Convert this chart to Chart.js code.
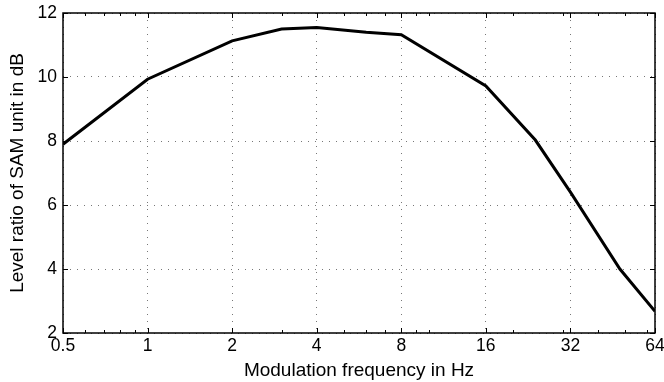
<!DOCTYPE html>
<html>
<head>
<meta charset="utf-8">
<script src="https://cdn.jsdelivr.net/npm/chart.js@4/dist/chart.umd.min.js"></script>
<style>
  html, body { margin: 0; padding: 0; background: #fff; }
  .chart__container { position: relative; width: 664px; height: 382px; }
</style>
</head>
<body>
<div class="chart__container">
  <canvas id="chart" width="664" height="382"></canvas>
</div>
<script>
const freqs = [0.5, 1, 2, 3, 4, 6, 8, 16, 24, 32, 48, 64];
const levels = [7.9, 9.93, 11.13, 11.5, 11.55, 11.4, 11.32, 9.72, 8.03, 6.4, 4.0, 2.68];
const xTicks = [0.5, 1, 2, 4, 8, 16, 32, 64];
const xMinorTicks = [0.6, 0.7, 0.8, 0.9, 3, 5, 6, 7, 9, 10, 20, 30, 40, 50, 60];
const yTicks = [2, 4, 6, 8, 10, 12];

const FONT = '"Liberation Sans", Arial, sans-serif';

// MATLAB style box with inward ticks
const boxPlugin = {
  id: 'box',
  afterDraw(chart) {
    const { ctx, chartArea: a, scales } = chart;
    ctx.save();
    ctx.strokeStyle = '#000';
    ctx.lineWidth = 1;
    ctx.beginPath();
    const tick = (list, len) => list.forEach((v) => {
      const x = Math.round(scales.x.getPixelForValue(v)) + 0.5;
      ctx.moveTo(x, a.bottom); ctx.lineTo(x, a.bottom - len);
      ctx.moveTo(x, a.top); ctx.lineTo(x, a.top + len);
    });
    tick(xTicks, 5);
    tick(xMinorTicks, 3);
    yTicks.forEach((v) => {
      const y = Math.round(scales.y.getPixelForValue(v)) + 0.5;
      ctx.moveTo(a.left, y); ctx.lineTo(a.left + 5, y);
      ctx.moveTo(a.right, y); ctx.lineTo(a.right - 5, y);
    });
    ctx.stroke();
    ctx.lineWidth = 1.5;
    ctx.strokeRect(a.left, a.top, a.right - a.left, a.bottom - a.top);
    ctx.restore();
  },
};

const canvasRef = document.getElementById('chart').getContext('2d');
// eslint-disable-next-line no-new
new Chart(canvasRef, {
  type: 'line',
  data: {
    datasets: [{
      data: freqs.map((f, i) => ({ x: f, y: levels[i] })),
      borderColor: '#000',
      borderWidth: 3,
      pointRadius: 0,
      tension: 0,
      fill: false,
    }],
  },
  options: {
    responsive: false,
    animation: false,
    layout: { padding: { top: 13, right: 9, left: 0, bottom: 0 } },
    plugins: {
      legend: { display: false },
      tooltip: { enabled: false },
    },
    scales: {
      x: {
        type: 'logarithmic',
        min: 0.5,
        max: 64,
        afterBuildTicks: (scale) => { scale.ticks = xTicks.map((v) => ({ value: v })); },
        afterFit: (scale) => {
          scale.height = 49;
          scale.paddingLeft = 0;
          scale.paddingRight = 0;
        },
        ticks: {
          color: '#000',
          font: { family: FONT, size: 17.5 },
          padding: 3,
          maxRotation: 0,
          autoSkip: false,
          callback: (v) => String(v),
        },
        grid: {
          color: '#777',
          drawTicks: false,
        },
        border: { display: false, dash: [1, 6] },
        title: {
          display: true,
          text: 'Modulation frequency in Hz',
          color: '#000',
          font: { family: FONT, size: 19 },
          padding: { top: 0, bottom: 0 },
        },
      },
      y: {
        min: 2,
        max: 12,
        afterBuildTicks: (scale) => { scale.ticks = yTicks.map((v) => ({ value: v })); },
        afterFit: (scale) => {
          scale.width = 63;
          scale.paddingTop = 0;
          scale.paddingBottom = 0;
        },
        ticks: {
          color: '#000',
          font: { family: FONT, size: 17.5 },
          padding: 6,
        },
        grid: {
          color: '#777',
          drawTicks: false,
        },
        border: { display: false, dash: [1, 6] },
        title: {
          display: true,
          text: 'Level ratio of SAM unit in dB',
          color: '#000',
          font: { family: FONT, size: 19 },
          padding: { top: 6, bottom: 0 },
        },
      },
    },
  },
  plugins: [boxPlugin],
});
</script>
</body>
</html>
